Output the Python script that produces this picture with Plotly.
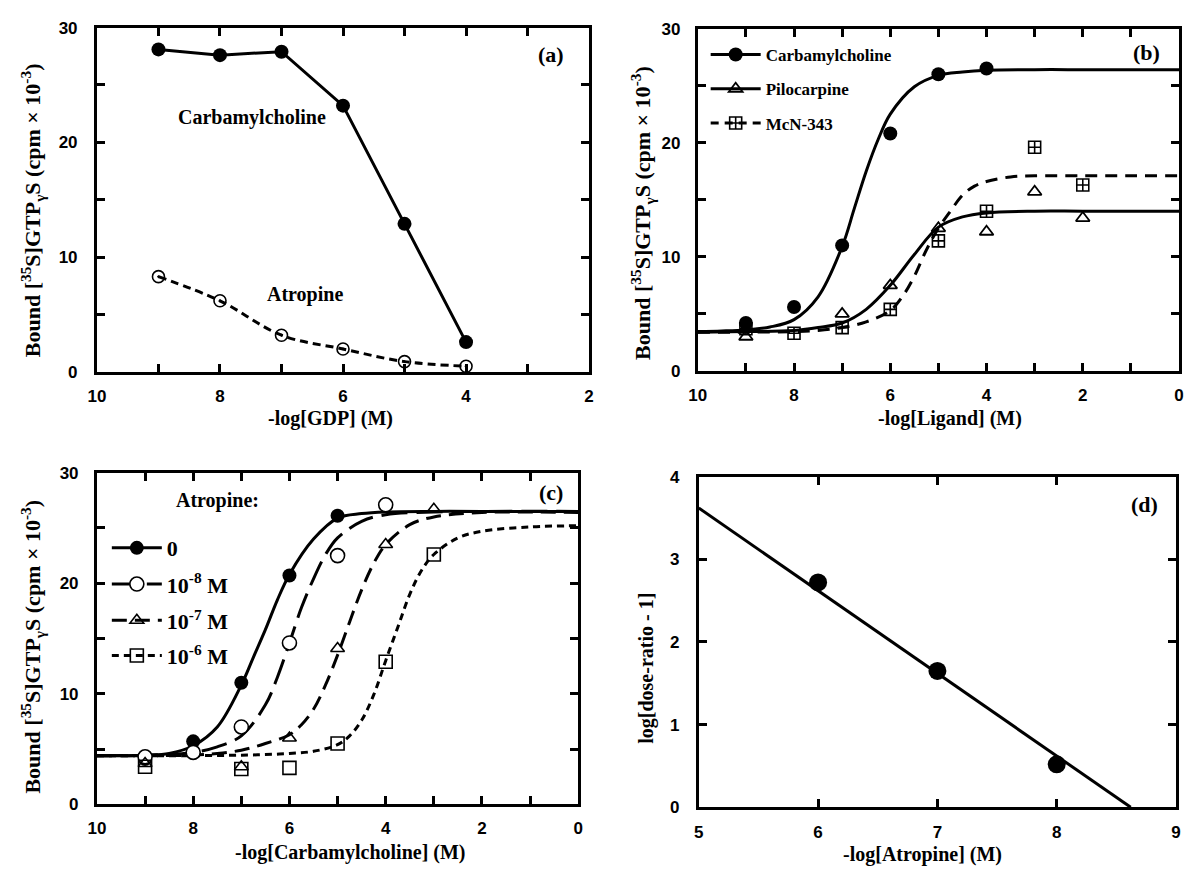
import plotly.graph_objects as go

W, H = 1186, 875

# ---------------- data ----------------
# panel (a)
a_x = [9, 8, 7, 6, 5, 4]
a_carb = [28.1, 27.6, 27.9, 23.2, 12.9, 2.6]
a_atro = [8.3, 6.2, 3.2, 2.0, 0.9, 0.5]

# panel (b)
b_carb_x = [9, 8, 7, 6, 5, 4]
b_carb_y = [4.2, 5.6, 11.0, 20.8, 26.0, 26.5]
b_pilo_x = [9, 7, 6, 5, 4, 3, 2]
b_pilo_y = [3.0, 5.0, 7.5, 12.5, 12.2, 15.7, 13.4]
b_mcn_x = [9, 8, 7, 6, 5, 4, 3, 2]
b_mcn_y = [3.7, 3.3, 3.8, 5.4, 11.4, 14.0, 19.6, 16.3]

b_carb_fit_x = [10, 9.5, 9, 8.5, 8, 7.5, 7, 6.75, 6.5, 6.25, 6, 5.5, 5, 4.5, 4, 3, 2, 1, 0]
b_carb_fit_y = [3.45, 3.5, 3.6, 3.85, 4.5, 6.5, 10.9, 14.2, 17.5, 20.3, 22.5, 24.9, 25.9, 26.2, 26.35, 26.4, 26.4, 26.4, 26.4]
b_pilo_fit_x = [10, 9, 8, 7.5, 7, 6.5, 6, 5.5, 5, 4.5, 4, 3, 2, 0]
b_pilo_fit_y = [3.4, 3.45, 3.55, 3.8, 4.2, 5.4, 7.5, 10.2, 12.6, 13.5, 13.85, 14.0, 14.0, 14.0]
b_mcn_fit_x = [10, 9, 8, 7.5, 7, 6.5, 6, 5.75, 5.5, 5.25, 5, 4.75, 4.5, 4.25, 4, 3.5, 3, 2, 1, 0]
b_mcn_fit_y = [3.4, 3.4, 3.45, 3.55, 3.8, 4.3, 5.3, 6.5, 8.3, 10.6, 12.5, 14.0, 15.4, 16.2, 16.6, 17.0, 17.1, 17.1, 17.1, 17.1]

# panel (c)
c_ctrl_x = [9, 8, 7, 6, 5]
c_ctrl_y = [4.1, 5.7, 11.0, 20.7, 26.1]
c_a8_x = [9, 8, 7, 6, 5, 4]
c_a8_y = [4.3, 4.7, 7.0, 14.6, 22.5, 27.1]
c_a7_x = [9, 7, 6, 5, 4, 3]
c_a7_y = [3.7, 3.4, 6.0, 14.1, 23.5, 26.7]
c_a6_x = [9, 7, 6, 5, 4, 3]
c_a6_y = [3.4, 3.2, 3.3, 5.5, 12.9, 22.6]

c_ctrl_fit_x = [10, 9, 8.5, 8, 7.5, 7, 6.75, 6.5, 6.25, 6, 5.5, 5, 4.5, 4, 3, 2, 0]
c_ctrl_fit_y = [4.4, 4.45, 4.6, 5.3, 7.0, 10.8, 13.3, 15.8, 18.5, 20.8, 24.0, 25.9, 26.3, 26.45, 26.5, 26.5, 26.5]
c_a8_fit_x = [10, 9, 8, 7.5, 7, 6.5, 6.25, 6, 5.75, 5.5, 5.25, 5, 4.5, 4, 3, 2, 0]
c_a8_fit_y = [4.4, 4.45, 4.7, 5.2, 6.2, 9.0, 11.5, 14.6, 17.8, 20.4, 22.6, 24.1, 25.6, 26.2, 26.45, 26.5, 26.5]
c_a7_fit_x = [10, 9, 8, 7.5, 7, 6.5, 6, 5.75, 5.5, 5.25, 5, 4.75, 4.5, 4.25, 4, 3.5, 3, 2, 0]
c_a7_fit_y = [4.4, 4.4, 4.45, 4.6, 4.9, 5.5, 6.3, 7.2, 8.6, 10.8, 13.5, 16.5, 19.4, 21.8, 23.5, 25.3, 26.0, 26.4, 26.4]
c_a6_fit_x = [10, 8, 7, 6.5, 6, 5.5, 5, 4.75, 4.5, 4.25, 4, 3.75, 3.5, 3.25, 3, 2.5, 2, 1, 0]
c_a6_fit_y = [4.4, 4.4, 4.45, 4.5, 4.6, 4.8, 5.4, 6.2, 7.6, 9.9, 13.0, 16.0, 19.0, 21.2, 22.6, 24.1, 24.7, 25.1, 25.2]

# panel (d)
d_x = [6, 7, 8]
d_y = [2.72, 1.65, 0.52]
d_fit_x = [5, 8.62]
d_fit_y = [3.62, 0]

# tick labels
ax_a_ticks = [10, 9, 8, 7, 6, 5, 4, 3, 2]
ax_a_text = ["10", "", "8", "", "6", "", "4", "", "2"]
ax_bc_ticks = [10, 9, 8, 7, 6, 5, 4, 3, 2, 1, 0]
ax_bc_text = ["10", "", "8", "", "6", "", "4", "", "2", "", "0"]
ay_ticks = [0, 5, 10, 15, 20, 25, 30]
ay_text = ["0", "", "10", "", "20", "", "30"]
dx_ticks = [5, 6, 7, 8, 9]
dx_text = ["5", "6", "7", "8", "9"]
dy_ticks = [0, 1, 2, 3, 4]
dy_text = ["0", "1", "2", "3", "4"]

# ---------------- figure ----------------
SERIF = "Liberation Serif"
SANS = "Liberation Sans"
K = "black"

fig = go.Figure()

def px_dom_x(l, r):
    return [l / W, r / W]

def px_dom_y(t, b):
    return [1 - b / H, 1 - t / H]

# panel a
fig.add_trace(go.Scatter(x=a_x, y=a_carb, mode="lines+markers", xaxis="x", yaxis="y",
                         line=dict(color=K, width=3), marker=dict(symbol="circle", size=14, color=K),
                         showlegend=False))
fig.add_trace(go.Scatter(x=a_x, y=a_atro, mode="lines+markers", xaxis="x", yaxis="y",
                         line=dict(color=K, width=3, dash="8px,5px", shape="spline"),
                         marker=dict(symbol="circle-open-dot", size=12, color=K, line=dict(width=1.6, color=K)),
                         showlegend=False))

# panel b curves
fig.add_trace(go.Scatter(x=b_carb_fit_x, y=b_carb_fit_y, mode="lines", xaxis="x2", yaxis="y2",
                         line=dict(color=K, width=3, shape="spline"), showlegend=False))
fig.add_trace(go.Scatter(x=b_pilo_fit_x, y=b_pilo_fit_y, mode="lines", xaxis="x2", yaxis="y2",
                         line=dict(color=K, width=3, shape="spline"), showlegend=False))
fig.add_trace(go.Scatter(x=b_mcn_fit_x, y=b_mcn_fit_y, mode="lines", xaxis="x2", yaxis="y2",
                         line=dict(color=K, width=3, dash="12px,8px", shape="spline"), showlegend=False))
# panel b points
fig.add_trace(go.Scatter(x=b_carb_x, y=b_carb_y, mode="markers", xaxis="x2", yaxis="y2",
                         marker=dict(symbol="circle", size=14, color=K), showlegend=False))
fig.add_trace(go.Scatter(x=b_pilo_x, y=b_pilo_y, mode="markers", xaxis="x2", yaxis="y2",
                         marker=dict(symbol="triangle-up-open", size=12, color=K, line=dict(width=1.8, color=K)),
                         showlegend=False))
fig.add_trace(go.Scatter(x=b_mcn_x, y=b_mcn_y, mode="markers", xaxis="x2", yaxis="y2",
                         marker=dict(symbol="square-cross-open", size=12, color=K, line=dict(width=1.6, color=K)),
                         showlegend=False))

# panel c curves
c_styles = [
    (c_ctrl_fit_x, c_ctrl_fit_y, "solid"),
    (c_a8_fit_x, c_a8_fit_y, "26px,9px"),
    (c_a7_fit_x, c_a7_fit_y, "15px,8px"),
    (c_a6_fit_x, c_a6_fit_y, "7px,5px"),
]
for xs, ys, dsh in c_styles:
    fig.add_trace(go.Scatter(x=xs, y=ys, mode="lines", xaxis="x3", yaxis="y3",
                             line=dict(color=K, width=3, dash=dsh, shape="spline"), showlegend=False))
# panel c points
fig.add_trace(go.Scatter(x=c_ctrl_x, y=c_ctrl_y, mode="markers", xaxis="x3", yaxis="y3",
                         marker=dict(symbol="circle", size=14, color=K), showlegend=False))
fig.add_trace(go.Scatter(x=c_a8_x, y=c_a8_y, mode="markers", xaxis="x3", yaxis="y3",
                         marker=dict(symbol="circle", size=14, color="white", line=dict(width=1.6, color=K)),
                         showlegend=False))
fig.add_trace(go.Scatter(x=c_a7_x, y=c_a7_y, mode="markers", xaxis="x3", yaxis="y3",
                         marker=dict(symbol="triangle-up-open", size=12, color=K, line=dict(width=1.6, color=K)),
                         showlegend=False))
fig.add_trace(go.Scatter(x=c_a6_x, y=c_a6_y, mode="markers", xaxis="x3", yaxis="y3",
                         marker=dict(symbol="square-open", size=13, color=K, line=dict(width=1.6, color=K)),
                         showlegend=False))

# panel d
fig.add_trace(go.Scatter(x=d_fit_x, y=d_fit_y, mode="lines", xaxis="x4", yaxis="y4",
                         line=dict(color=K, width=3), showlegend=False))
fig.add_trace(go.Scatter(x=d_x, y=d_y, mode="markers", xaxis="x4", yaxis="y4",
                         marker=dict(symbol="circle", size=18, color=K), showlegend=False))

# legend entries (legend-only helper traces, no data)
leg_b = [
    ("Carbamylcholine", "solid", dict(symbol="circle", size=14, color=K)),
    ("Pilocarpine", "solid", dict(symbol="triangle-up-open", size=12, color=K, line=dict(width=1.8, color=K))),
    ("McN-343", "8px,6px", dict(symbol="square-cross-open", size=12, color=K, line=dict(width=1.6, color=K))),
]
leg_c = [
    ("0", "solid", dict(symbol="circle", size=14, color=K)),
    ("10<sup>-8</sup> M", "26px,9px", dict(symbol="circle", size=14, color="white", line=dict(width=1.6, color=K))),
    ("10<sup>-7</sup> M", "15px,8px", dict(symbol="triangle-up-open", size=12, color=K, line=dict(width=1.6, color=K))),
    ("10<sup>-6</sup> M", "7px,5px", dict(symbol="square-open", size=13, color=K, line=dict(width=1.6, color=K))),
]
legend_layouts = {}
b_rows = [47, 82, 117]
c_rows = [551, 588, 625, 661]
li = 1
for (name, dsh, mk), row in zip(leg_b, b_rows):
    lname = "legend" if li == 1 else f"legend{li}"
    fig.add_trace(go.Scatter(x=[None], y=[None], mode="lines+markers", name=name, xaxis="x2", yaxis="y2",
                             line=dict(color=K, width=3, dash=dsh), marker=mk, legend=lname, showlegend=True))
    legend_layouts[lname] = dict(x=705 / W, y=1 - row / H, xanchor="left", yanchor="middle",
                                 bgcolor="rgba(0,0,0,0)", itemwidth=50,
                                 font=dict(family=SERIF, size=17, color=K, weight="bold"))
    li += 1
for (name, dsh, mk), row in zip(leg_c, c_rows):
    lname = f"legend{li}"
    fig.add_trace(go.Scatter(x=[None], y=[None], mode="lines+markers", name=name, xaxis="x3", yaxis="y3",
                             line=dict(color=K, width=3, dash=dsh), marker=mk, legend=lname, showlegend=True))
    legend_layouts[lname] = dict(x=99 / W, y=1 - row / H, xanchor="left", yanchor="middle",
                                 bgcolor="rgba(0,0,0,0)", itemwidth=50,
                                 font=dict(family=SERIF, size=22, color=K, weight="bold"))
    li += 1

def axis(domain, rng, tickvals, ticktext, anchor, standoff=4):
    return dict(domain=domain, range=rng, tickmode="array", tickvals=tickvals, ticktext=ticktext,
                showline=True, linecolor=K, linewidth=3, mirror="allticks",
                ticks="inside", ticklen=8, tickwidth=2.5, tickcolor=K,
                showgrid=False, zeroline=False, anchor=anchor, fixedrange=True,
                ticklabelstandoff=standoff,
                tickfont=dict(family=SANS, size=17, color=K, weight="bold"))

layout = dict(
    width=W, height=H, margin=dict(l=0, r=0, t=0, b=0),
    paper_bgcolor="white", plot_bgcolor="white",
    xaxis=axis(px_dom_x(89, 587), [10, 2], ax_a_ticks, ax_a_text, "y", standoff=7),
    yaxis=axis(px_dom_y(19, 371), [0, 30], ay_ticks, ay_text, "x", standoff=13),
    xaxis2=axis(px_dom_x(697, 1184), [10, 0], ax_bc_ticks, ax_bc_text, "y2", standoff=7),
    yaxis2=axis(px_dom_y(20, 370), [0, 30], ay_ticks, ay_text, "x2", standoff=11),
    xaxis3=axis(px_dom_x(89, 576), [10, 0], ax_bc_ticks, ax_bc_text, "y3", standoff=6),
    yaxis3=axis(px_dom_y(474, 813), [0, 30], ay_ticks, ay_text, "x3", standoff=12),
    xaxis4=axis(px_dom_x(698, 1181), [5, 9], dx_ticks, dx_text, "y4", standoff=7),
    yaxis4=axis(px_dom_y(478, 816), [0, 4], dy_ticks, dy_text, "x4", standoff=13),
)
layout.update(legend_layouts)
fig.update_layout(**layout)

def ann(text, px, py, size, angle=0, family=SERIF):
    fig.add_annotation(text=text, x=px / W, y=1 - py / H, xref="paper", yref="paper",
                       xanchor="center", yanchor="middle", showarrow=False, textangle=angle,
                       font=dict(family=family, size=size, color=K, weight="bold"))

ytitle = "Bound [<sup>35</sup>S]GTP<sub>γ</sub>S (cpm × 10<sup>-3</sup>)"
ann(ytitle, 24, 206, 22, -90)
ann(ytitle, 641, 208, 22, -90)
ann(ytitle, 24, 652, 22, -90)
ann("log[dose-ratio - 1]", 645, 674, 20, -90)
ann("-log[GDP] (M)", 325, 419, 20)
ann("-log[Ligand] (M)", 952, 419, 20)
ann("-log[Carbamylcholine] (M)", 346, 862, 20)
ann("-log[Atropine] (M)", 924, 864, 20)

ann("(a)", 548, 46, 22)
ann("(b)", 1151, 44, 22)
ann("(c)", 548, 494, 22)
ann("(d)", 1149, 507, 22)
ann("Carbamylcholine", 246, 111, 20)
ann("Atropine", 300, 292, 20)
ann("Atropine:", 211, 502, 20)

fig.write_html("out.html")
